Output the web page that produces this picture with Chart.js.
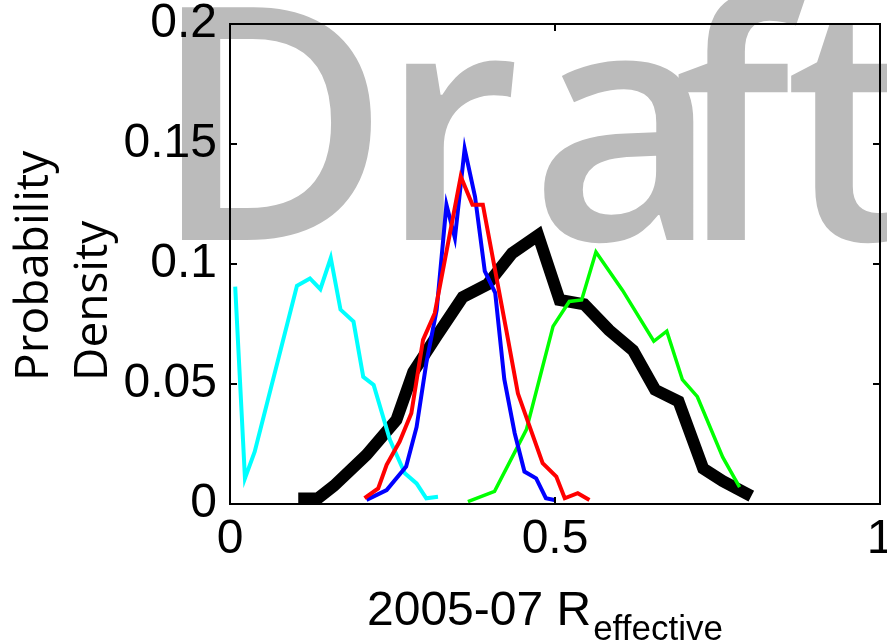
<html>
<head>
    <meta charset="UTF-8">
    <script src="https://cdn.jsdelivr.net/npm/chart.js"></script>
    <title>Reffective</title>
    <style>
        body { margin: 0; background: #fff; }
    </style>
</head>
<body>
    <canvas id="density" width="887" height="640"></canvas>
    <script>
        // tick values
        const xTickValues = [0, 0.5, 1];
        const yTickValues = [0, 0.05, 0.1, 0.15, 0.2];

        // series (x = R effective, y = density)
        const cyanX = [0.008, 0.023, 0.038, 0.103, 0.123, 0.139, 0.155, 0.170, 0.190, 0.205, 0.221, 0.246, 0.269, 0.287, 0.302, 0.320];
        const cyanY = [0.0906, 0.0107, 0.0218, 0.0909, 0.094, 0.0895, 0.1025, 0.081, 0.076, 0.053, 0.0496, 0.0267, 0.0128, 0.0086, 0.0024, 0.003];

        const blackX = [0.105, 0.135, 0.160, 0.210, 0.256, 0.282, 0.318, 0.358, 0.396, 0.434, 0.474, 0.507, 0.545, 0.583, 0.620, 0.654, 0.690, 0.728, 0.758, 0.802];
        const blackY = [0.0023, 0.0023, 0.0076, 0.0205, 0.035, 0.055, 0.070, 0.0862, 0.0915, 0.1045, 0.112, 0.085, 0.0832, 0.0725, 0.064, 0.0476, 0.0428, 0.0148, 0.0096, 0.0033];

        const blueX = [0.210, 0.241, 0.271, 0.287, 0.302, 0.318, 0.333, 0.346, 0.361, 0.377, 0.392, 0.408, 0.422, 0.438, 0.453, 0.471, 0.486, 0.499];
        const blueY = [0.0017, 0.0058, 0.0156, 0.032, 0.0587, 0.081, 0.1247, 0.1108, 0.148, 0.128, 0.097, 0.088, 0.052, 0.0295, 0.0135, 0.0107, 0.0024, 0.0017];

        const redX = [0.207, 0.228, 0.241, 0.261, 0.279, 0.297, 0.315, 0.355, 0.373, 0.389, 0.425, 0.443, 0.481, 0.502, 0.515, 0.535, 0.553];
        const redY = [0.0024, 0.0065, 0.0163, 0.026, 0.0378, 0.0684, 0.0795, 0.1365, 0.1247, 0.1247, 0.0726, 0.046, 0.017, 0.0114, 0.0024, 0.0045, 0.0017];

        const greenX = [0.366, 0.407, 0.456, 0.476, 0.497, 0.522, 0.541, 0.563, 0.604, 0.652, 0.672, 0.696, 0.719, 0.758, 0.784];
        const greenY = [0.001, 0.0053, 0.031, 0.052, 0.074, 0.0844, 0.085, 0.105, 0.089, 0.0678, 0.072, 0.0518, 0.0447, 0.0195, 0.007];

        // watermark letters and where their ink starts
        const stampLetters = ['D', 'r', 'a', 'f', 't'];
        const stampLeft = [182, 405, 540, 678, 790];

        function pts(xs, ys) {
            return xs.map((x, i) => ({ x: x, y: ys[i] }));
        }

        function series(xs, ys, color, width, order) {
            return {
                data: pts(xs, ys),
                borderColor: color,
                borderWidth: width,
                pointRadius: 0,
                fill: false,
                tension: 0,
                clip: 0,
                order: order
            };
        }

        function fmt(v) {
            return String(Math.round(v * 100) / 100);
        }

        const tickFont = { family: "'Liberation Sans', Arial, sans-serif", size: 48 };

        // gray "Draft" stamp behind everything
        const watermark = {
            id: 'watermark',
            beforeDraw(chart) {
                const ctx = chart.ctx;
                ctx.save();
                ctx.fillStyle = '#bbbbbb';
                ctx.font = "600 326px 'Open Sans', sans-serif";
                ctx.textBaseline = 'alphabetic';
                ctx.textAlign = 'left';
                stampLetters.forEach((ch, i) => {
                    const m = ctx.measureText(ch);
                    ctx.fillText(ch, stampLeft[i] + m.actualBoundingBoxLeft, 240);
                });
                ctx.restore();
            }
        };

        // box, inward ticks and axis titles
        const frame = {
            id: 'frame',
            afterDraw(chart) {
                const ctx = chart.ctx;
                const ca = chart.chartArea;
                const xs = chart.scales.x, ys = chart.scales.y;
                ctx.save();
                ctx.strokeStyle = '#000';
                ctx.lineWidth = 2;
                ctx.beginPath();
                ctx.moveTo(ca.left, ca.top);
                ctx.lineTo(ca.right, ca.top);
                ctx.lineTo(ca.right, ca.bottom);
                ctx.stroke();

                const tl = 7;
                ctx.beginPath();
                ys.ticks.forEach(t => {
                    const py = ys.getPixelForValue(t.value);
                    ctx.moveTo(ca.left, py); ctx.lineTo(ca.left + tl, py);
                    ctx.moveTo(ca.right, py); ctx.lineTo(ca.right - tl, py);
                });
                xs.ticks.forEach(t => {
                    const px = xs.getPixelForValue(t.value);
                    ctx.moveTo(px, ca.bottom); ctx.lineTo(px, ca.bottom - tl);
                    ctx.moveTo(px, ca.top); ctx.lineTo(px, ca.top + tl);
                });
                ctx.stroke();

                // x title with subscript
                ctx.fillStyle = '#000';
                ctx.textBaseline = 'alphabetic';
                ctx.textAlign = 'left';
                ctx.font = "48px 'Liberation Sans', Arial, sans-serif";
                const main = '2005-07 R';
                const x0 = ca.left + 137;
                ctx.fillText(main, x0, ca.bottom + 121);
                const w = ctx.measureText(main).width;
                ctx.font = "35px 'Liberation Sans', Arial, sans-serif";
                ctx.fillText('effective', x0 + w + 2, ca.bottom + 136);

                // y title, two lines rotated
                ctx.font = "46px 'Open Sans', sans-serif";
                ctx.save();
                ctx.translate(48, 381);
                ctx.rotate(-Math.PI / 2);
                ctx.fillText('Probability', 0, 0);
                ctx.restore();
                ctx.save();
                ctx.translate(107, 381);
                ctx.rotate(-Math.PI / 2);
                ctx.fillText('Density', 0, 0);
                ctx.restore();
                ctx.restore();
            }
        };

        const config = {
            type: 'line',
            data: {
                datasets: [
                    series(blackX, blackY, '#000000', 12, 5),
                    series(cyanX, cyanY, '#00ffff', 4, 4),
                    series(greenX, greenY, '#00ff00', 3.5, 3),
                    series(blueX, blueY, '#0000ff', 4, 2),
                    series(redX, redY, '#ff0000', 4, 1)
                ]
            },
            options: {
                responsive: false,
                animation: false,
                devicePixelRatio: 1,
                layout: { padding: { top: 24, right: 7, left: 0, bottom: 0 } },
                plugins: {
                    legend: { display: false },
                    tooltip: { enabled: false }
                },
                scales: {
                    x: {
                        type: 'linear',
                        min: 0,
                        max: 1,
                        afterBuildTicks: s => { s.ticks = xTickValues.map(v => ({ value: v })); },
                        afterFit: s => { s.height = 136; s.paddingLeft = 0; s.paddingRight = 0; },
                        grid: { display: false, drawTicks: false },
                        border: { display: true, color: '#000', width: 2 },
                        ticks: { color: '#000', font: tickFont, padding: 7, maxRotation: 0, callback: fmt }
                    },
                    y: {
                        type: 'linear',
                        min: 0,
                        max: 0.2,
                        afterBuildTicks: s => { s.ticks = yTickValues.map(v => ({ value: v })); },
                        afterFit: s => { s.width = 230; s.paddingTop = 0; s.paddingBottom = 0; },
                        grid: { display: false, drawTicks: false },
                        border: { display: true, color: '#000', width: 2 },
                        ticks: { color: '#000', font: tickFont, padding: 13, callback: fmt }
                    }
                }
            },
            plugins: [watermark, frame]
        };

        const myChart = new Chart(document.getElementById('density'), config);
    </script>
</body>
</html>
